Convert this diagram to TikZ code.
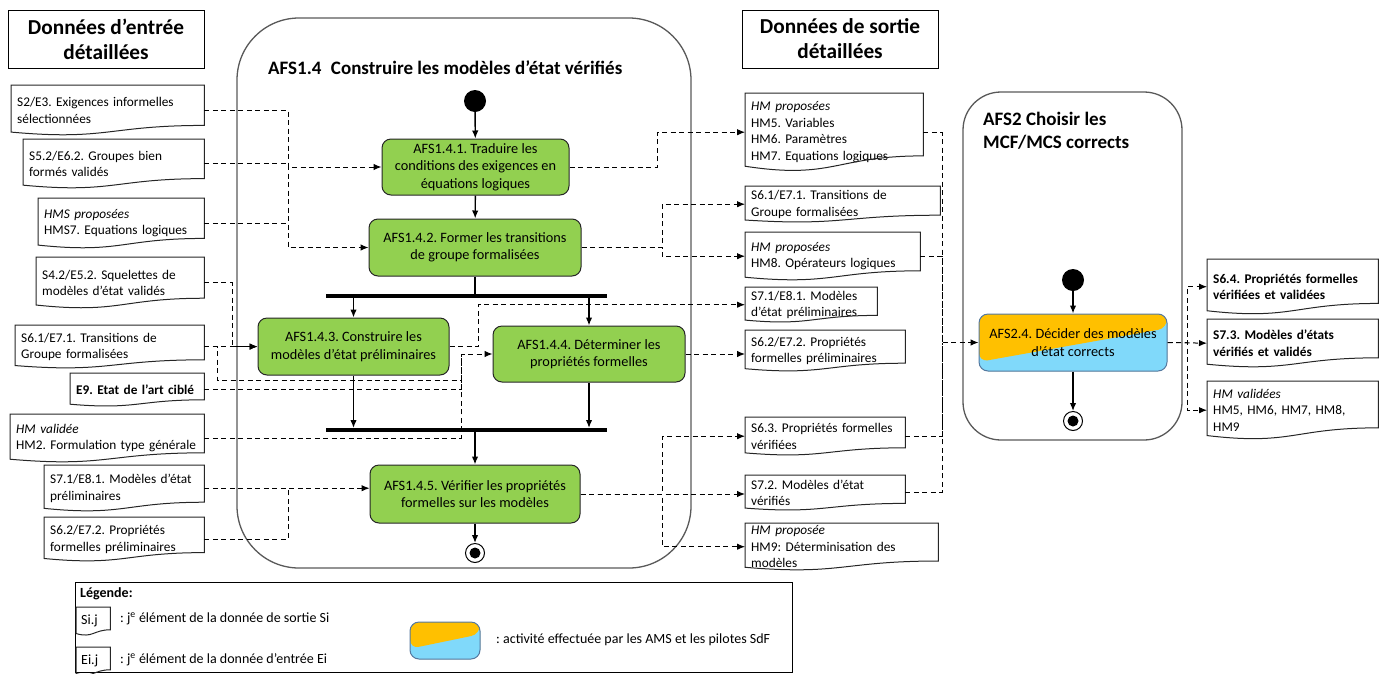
\documentclass[tikz,border=0pt]{standalone}
\usepackage{fontspec}
\setmainfont{Carlito}
\usepackage{xcolor}
\usepackage{tikz}
\usetikzlibrary{arrows.meta,calc}

\definecolor{actgreen}{RGB}{146,208,80}
\definecolor{afsorange}{RGB}{255,192,0}
\definecolor{afsblue}{RGB}{128,217,250}
\definecolor{afsedge}{RGB}{84,120,160}
\definecolor{framegray}{RGB}{89,89,89}

\newcommand\docfont{\fontsize{13.3}{16.5}\selectfont}
\newcommand\actfont{\fontsize{14.3}{17.5}\selectfont}
\newcommand\headfont{\fontsize{21.3}{25}\selectfont\bfseries}
\newcommand\framefont{\fontsize{19}{23}\selectfont\bfseries}
\newcommand\legfont{\fontsize{14}{16}\selectfont}

\frenchspacing
\begin{document}
\begin{tikzpicture}[x=1pt,y=-1pt,>={Latex[length=8pt,width=6.5pt]},
  headbox/.style={draw,line width=1pt,align=center,font=\headfont,minimum width=196pt,minimum height=58pt},
  frame/.style={draw=framegray,line width=1.3pt},
  act/.style={draw=black!85,fill=actgreen,line width=1pt,rounded corners=9pt,align=center,font=\actfont,inner sep=2pt},
  split/.style 2 args={path picture={
    \fill[afsblue] (path picture bounding box.south west) rectangle (path picture bounding box.north east);
    \fill[afsorange] (path picture bounding box.north west) -- (path picture bounding box.north east)
      -- ($(path picture bounding box.north east)!#2!(path picture bounding box.south east)$)
      -- ($(path picture bounding box.north west)!#1!(path picture bounding box.south west)$) -- cycle;}},
  doc/.style={anchor=north west,align=left,font=\docfont,inner xsep=6pt,inner ysep=0pt,
    append after command={(\tikzlastnode.north west) edge[docline] (\tikzlastnode.south east)}},
  docline/.style={draw=black!85,line width=1pt,to path={
    let \p1=(\tikztostart),\p2=(\tikztotarget),\n1={\y1-\y2} in
    (\x1,\y1) -- (\x2,\y1) -- (\x2,{\y2+0.198*\n1})
    .. controls ({0.5*\x1+0.5*\x2},{\y2+0.198*\n1}) and ({0.5*\x1+0.5*\x2},{\y2-0.1075*\n1}) .. (\x1,{\y2+0.066*\n1}) -- cycle}},
  bar/.style={fill=black,inner sep=0pt,minimum width=281pt,minimum height=3.6pt},
  startdot/.style={circle,fill=black,inner sep=0pt,minimum size=22pt},
  enddot/.style={circle,draw=black,fill=white,line width=1pt,inner sep=0pt,minimum size=19pt,
    path picture={\fill[black] (path picture bounding box.center) circle (5.5pt);}},
  flow/.style={->,line width=1.4pt},
  feed/.style={line width=1pt,dash pattern=on 5pt off 3.5pt},
]
  \useasboundingbox (0,0) rectangle (1384,673);

  \node[frame,rounded corners=62pt,minimum width=454pt,minimum height=550pt] (afs14) at (464,293) {};
  \node[frame,rounded corners=38pt,minimum width=219pt,minimum height=348pt] (afs2) at (1072.5,266) {};
  \node[font=\framefont,anchor=west,inner sep=0pt] (afs14title) at (268,68) {AFS1.4\enspace Construire les modèles d’état vérifiés};
  \node[font=\framefont,anchor=west,align=left,inner sep=0pt] (afs2title) at (983,130.5) {AFS2 Choisir les\\MCF/MCS corrects};

  \node[headbox] (inhead) at (106,39) {Données d’entrée\\détaillées};
  \node[headbox] (outhead) at (840,39) {Données de sortie\\détaillées};

  \node[startdot] (s1) at (475,101) {};
  \node[act,minimum width=187pt,minimum height=56pt] (a1) at (475.5,167) {AFS1.4.1. Traduire les\\conditions des exigences en\\équations logiques};
  \node[act,minimum width=212pt,minimum height=57pt] (a2) at (475,247.5) {AFS1.4.2. Former les transitions\\de groupe formalisées};
  \node[bar] (fork) at (466.5,296) {};
  \node[act,minimum width=191pt,minimum height=57pt] (a3) at (353.5,346.5) {AFS1.4.3. Construire les\\modèles d’état préliminaires};
  \node[act,minimum width=192pt,minimum height=56pt] (a4) at (589,354) {AFS1.4.4. Déterminer les\\propriétés formelles};
  \node[bar] (join) at (466.5,430) {};
  \node[act,minimum width=210pt,minimum height=58pt] (a5) at (475,494) {AFS1.4.5. Vérifier les propriétés\\formelles sur les modèles};
  \node[enddot] (e1) at (475,553) {};

  \node[startdot] (s2) at (1073,280) {};
  \node[act,draw=afsedge,split={0.84}{0.25},minimum width=188pt,minimum height=57pt] (a6) at (1073,342.5) {AFS2.4. Décider des modèles\\d’état corrects};
  \node[enddot] (e2) at (1073,421) {};

  \node[doc,text width=181pt,minimum height=50pt] (l1) at (11,85) {S2/E3. Exigences informelles\\sélectionnées};
  \node[doc,text width=169pt,minimum height=49pt] (l2) at (23,139) {S5.2/E6.2. Groupes bien\\formés validés};
  \node[doc,text width=154pt,minimum height=50pt] (l3) at (38,198) {\textit{HMS proposées}\\HMS7. Equations logiques};
  \node[doc,text width=156pt,minimum height=51pt] (l4) at (36,257) {S4.2/E5.2. Squelettes de\\modèles d’état validés};
  \node[doc,text width=177pt,minimum height=43pt] (l5) at (15,325) {S6.1/E7.1. Transitions de\\Groupe formalisées};
  \node[doc,text width=122pt,minimum height=33pt] (l6) at (70,373) {\textbf{E9. Etat de l’art ciblé}};
  \node[doc,text width=182pt,minimum height=48pt] (l7) at (10,414) {\textit{HM validée}\\HM2. Formulation type générale};
  \node[doc,text width=148pt,minimum height=46pt] (l8) at (44,465) {S7.1/E8.1. Modèles d’état\\préliminaires};
  \node[doc,text width=148pt,minimum height=44pt] (l9) at (44,517) {S6.2/E7.2. Propriétés\\formelles préliminaires};

  \node[doc,text width=166pt,minimum height=78pt] (o1) at (745,93) {\textit{HM proposées}\\HM5. Variables\\HM6. Paramètres\\HM7. Equations logiques};
  \node[doc,text width=183pt,minimum height=36pt] (o2) at (745,186) {S6.1/E7.1. Transitions de\\Groupe formalisées};
  \node[doc,text width=163pt,minimum height=48pt] (o3) at (745,232) {\textit{HM proposées}\\HM8. Opérateurs logiques};
  \node[doc,text width=120pt,minimum height=35pt] (o4) at (745,287) {S7.1/E8.1. Modèles\\d’état préliminaires};
  \node[doc,text width=148pt,minimum height=41pt] (o5) at (745,330) {S6.2/E7.2. Propriétés\\formelles préliminaires};
  \node[doc,text width=148pt,minimum height=38pt] (o6) at (745,417) {S6.3. Propriétés formelles\\vérifiées};
  \node[doc,text width=148pt,minimum height=35pt] (o7) at (745,475) {S7.2. Modèles d’état\\vérifiés};
  \node[doc,text width=181pt,minimum height=47pt] (o8) at (745,523) {\textit{HM proposée}\\HM9: Déterminisation des\\modèles};
  \node[doc,text width=159pt,minimum height=55pt] (o9) at (1207,259) {\textbf{S6.4. Propriétés formelles}\\\textbf{vérifiées et validées}};
  \node[doc,text width=159pt,minimum height=48pt] (o10) at (1207,319) {\textbf{S7.3. Modèles d’états}\\\textbf{vérifiés et validés}};
  \node[doc,text width=159pt,minimum height=58pt] (o11) at (1207,381) {\textit{HM validées}\\HM5, HM6, HM7, HM8,\\HM9};

  \coordinate (inA) at (288,0);
  \coordinate (inB) at (232,0);
  \coordinate (inC) at (217,380);
  \coordinate (inD) at (461,0);
  \coordinate (outA) at (657,0);
  \coordinate (outB) at (662,0);
  \coordinate (outC) at (478,0);
  \coordinate (outD) at (942,0);
  \coordinate (outE) at (1187,0);

  \draw[flow] (s1) -- (a1);
  \draw[flow] (a1) -- (a2);
  \draw[line width=1.4pt] (a2.south) -- (a2.south |- fork.north);
  \draw[flow] (a3.north |- fork.south) -- (a3.north);
  \draw[flow] (a4.north |- fork.south) -- (a4.north);
  \draw[flow] (a3.south) -- (a3.south |- join.north);
  \draw[flow] (a4.south) -- (a4.south |- join.north);
  \draw[flow] (join.south -| a5.north) -- (a5.north);
  \draw[flow] (a5) -- (e1);
  \draw[flow] (s2) -- (a6);
  \draw[flow] (a6) -- (e2);

  \draw[feed,->] (l1.east) -| (inA |- a1.west) -- (a1.west);
  \draw[feed,->] (l2.east) -| (inA |- a2.west) -- (a2.west);
  \draw[feed] (l3.east) -- (inA |- l3.east);
  \draw[feed,->] (l4.east) -| (inB |- a3.west) -- (a3.west);
  \draw[feed,->] (l5.east) -- (l5.east -| a3.west);
  \draw[feed,->] (l5.east) -| (inC) -| (inD |- a4.west) -- (a4.west);
  \draw[feed] (l6.east) -| (inD |- a4.west);
  \draw[feed] (l7.east) -| (inD |- a4.west);
  \draw[feed,->] (l8.east) -- (l8.east -| a5.west);
  \draw[feed] (l9.east) -| (inA |- l8.east);

  \draw[feed,->] (a1.east) -| (outA |- o1.west) -- (o1.west);
  \draw[feed,->] (a2.east) -| (outB |- o2.west) -- (o2.west);
  \draw[feed,->] (a2.east) -| (outB |- o3.west) -- (o3.west);
  \draw[feed,->] (a3.east) -| (outC |- o4.west) -- (o4.west);
  \draw[feed,->] (a4.east) -- (a4.east -| o5.west);
  \draw[feed,->] (a5.east) -| (outB |- o6.west) -- (o6.west);
  \draw[feed,->] (a5.east) -- (a5.east -| o7.west);
  \draw[feed,->] (a5.east) -| (outB |- o8.west) -- (o8.west);

  \draw[feed,->] (o1.east) -| (outD |- a6.west) -- (a6.west);
  \draw[feed] (o3.east) -| (outD |- a6.west);
  \draw[feed] (o6.east) -| (outD |- a6.west);
  \draw[feed] (o7.east) -| (outD |- a6.west);

  \draw[feed,->] (a6.east) -| (outE |- o9.west) -- (o9.west);
  \draw[feed,->] (a6.east) -- (o10.west);
  \draw[feed,->] (a6.east) -| (outE |- o11.west) -- (o11.west);

  \node[draw,line width=0.8pt,anchor=north west,minimum width=717pt,minimum height=90pt] (legend) at (75,582) {};
  \node[font=\legfont\bfseries,anchor=west,inner sep=0pt] (legtitle) at (80,594) {Légende:};
  \node[doc,font=\legfont,inner xsep=5pt,text width=24pt,minimum height=28pt] (legout) at (76,607) {Si.j};
  \node[font=\legfont,anchor=west,inner sep=0pt] (legouttext) at (120,619) {: j\textsuperscript{e} élément de la donnée de sortie Si};
  \node[doc,font=\legfont,inner xsep=5pt,text width=24pt,minimum height=28pt] (legin) at (76,647) {Ei.j};
  \node[font=\legfont,anchor=west,inner sep=0pt] (legintext) at (120,660) {: j\textsuperscript{e} élément de la donnée d’entrée Ei};
  \node[act,draw=afsedge,split={0.72}{0.33},minimum width=70pt,minimum height=37pt] (legact) at (445,640.5) {};
  \node[font=\legfont,anchor=west,inner sep=0pt] (legacttext) at (496,640) {: activité effectuée par les AMS et les pilotes SdF};
\end{tikzpicture}
\end{document}
